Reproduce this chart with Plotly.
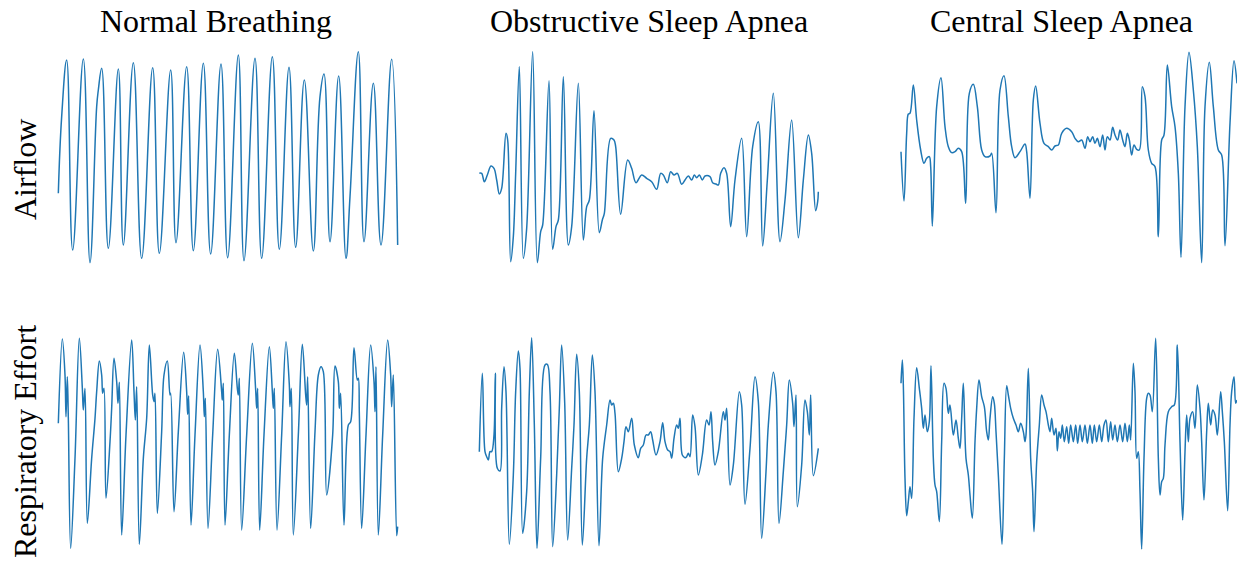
import plotly.graph_objects as go

# ---- data: (time, signal reading) pairs, signal axis increases downward (reversed scale)
normal_airflow = [(25,460),(35,230),(50,60),(68,630),(100,57),(120,668),(140,200),(145,150),(155,85),(175,625),
    (205,87),(220,615),(250,68),(275,655),(308,83),(328,640),(362,90),(378,608),(410,80),(430,632),(460,70),(482,642),
    (513,72),(533,653),(565,45),(582,662),(615,55),(635,655),(667,50),(688,628),(717,82),(737,622),(763,120),(790,633),
    (810,170),(822,102),(840,605),(866,108),(888,655),(900,470),(925,35),(942,605),(970,130),(993,615),(1025,58),(1043,615)]

osa_airflow = [(28,400),(35,400),(43,425),(52,405),(63,378),(72,385),(80,420),(88,462),(95,445),(108,280),(113,300),
    (122,665),(130,590),(137,400),(148,80),(160,655),(170,565),(188,35),(202,668),(212,575),(218,555),(237,122),(248,628),
    (258,560),(265,540),(280,110),(295,615),(305,560),(325,130),(340,600),(350,500),(358,480),(372,212),(388,578),(397,540),
    (403,520),(422,295),(432,300),(437,320),(452,523),(473,360),(485,385),(498,428),(515,405),(530,415),(545,425),(560,448),
    (572,400),(580,405),(592,428),(602,395),(612,405),(622,400),(635,433),(645,420),(655,408),(665,420),(673,405),(680,413),
    (688,405),(697,420),(705,408),(720,410),(728,428),(738,432),(745,435),(752,400),(762,383),(770,400),(782,560),(795,420),
    (815,295),(830,590),(848,320),(865,245),(878,618),(892,420),(910,160),(930,605),(945,480),(965,240),(985,593),(1000,420),
    (1015,285),(1025,340),(1037,512),(1043,485),(1045,455)]

csa_airflow = [(33,335),(42,483),(50,280),(55,222),(60,220),(70,135),(80,240),(92,330),(102,370),(110,355),(118,350),
    (122,380),(127,558),(140,200),(153,113),(165,260),(175,320),(185,338),(195,335),(205,325),(215,335),(227,490),(238,160),
    (250,133),(262,200),(275,330),(285,350),(300,348),(305,340),(318,518),(330,150),(342,107),(355,230),(365,320),(375,353),
    (390,335),(405,312),(410,335),(420,475),(430,180),(437,138),(450,250),(462,310),(475,320),(485,330),(495,318),(505,315),
    (515,280),(530,265),(545,275),(555,295),(565,305),(575,300),(585,325),(593,290),(600,305),(608,290),(615,310),(622,295),
    (630,320),(638,285),(645,330),(652,290),(660,300),(668,262),(675,285),(683,300),(690,270),(698,300),(705,320),(712,280),
    (718,300),(725,345),(732,315),(740,328),(748,330),(757,140),(765,170),(775,330),(785,370),(795,380),(805,590),(815,300),
    (822,285),(832,75),(845,200),(855,260),(865,400),(873,652),(885,200),(897,37),(910,150),(922,320),(935,668),(945,200),
    (958,67),(970,200),(985,330),(995,345),(1005,617),(1020,250),(1032,62),(1041,130)]

normal_effort = [(25,295),(37,42),(45,150),(48,275),(52,155),(55,280),(62,670),(75,400),(88,40),(97,190),(100,255),
    (105,190),(112,595),(125,400),(135,280),(140,200),(148,108),(155,150),(158,205),(162,190),(168,520),(180,350),(185,250),
    (192,100),(200,170),(204,235),(208,172),(215,630),(228,330),(245,45),(252,200),(256,285),(260,185),(268,658),(280,400),
    (290,280),(298,60),(308,210),(312,230),(315,205),(322,565),(335,320),(342,150),(352,108),(360,210),(362,205),(372,560),
    (385,320),(401,82),(410,200),(413,268),(416,212),(423,600),(435,330),(450,60),(460,200),(463,275),(466,220),(474,610),
    (488,330),(503,73),(515,200),(517,225),(520,175),(525,600),(538,330),(553,85),(562,190),(565,210),(568,160),(575,615),
    (590,330),(607,55),(617,195),(620,250),(623,190),(629,615),(642,330),(658,65),(667,200),(670,250),(673,190),(681,615),
    (695,330),(708,50),(718,180),(720,245),(724,190),(730,630),(745,330),(757,58),(767,210),(770,240),(773,155),(782,610),
    (795,320),(805,150),(813,125),(820,140),(830,510),(848,330),(855,123),(865,170),(868,250),(872,205),(882,600),(895,300),
    (902,290),(912,68),(922,165),(925,160),(928,265),(935,610),(948,330),(962,60),(972,170),(975,260),(978,125),(985,630),
    (998,330),(1013,45),(1022,150),(1025,245),(1030,150),(1040,632),(1043,605)]

osa_effort = [(28,380),(37,145),(45,380),(50,395),(55,405),(60,380),(65,380),(72,330),(76,145),(82,430),(90,438),
    (95,250),(102,125),(108,200),(118,658),(130,450),(137,200),(145,78),(150,130),(158,625),(170,500),(178,200),(185,38),
    (193,300),(201,670),(212,400),(225,120),(232,118),(240,200),(248,665),(260,450),(268,250),(275,60),(284,230),(293,645),
    (305,430),(312,300),(320,88),(328,200),(337,660),(350,400),(358,300),(367,90),(375,200),(387,662),(398,400),(410,300),
    (420,225),(425,240),(430,235),(435,265),(445,440),(455,400),(462,350),(468,305),(475,320),(485,280),(493,360),(505,398),
    (512,370),(520,360),(528,330),(535,330),(542,320),(548,345),(558,390),(570,350),(578,293),(585,350),(593,375),(600,380),
    (605,400),(612,340),(620,300),(625,310),(630,280),(637,390),(645,398),(650,395),(655,385),(660,395),(668,270),(675,305),
    (685,450),(697,390),(710,285),(717,300),(723,260),(728,350),(735,420),(745,380),(760,260),(765,285),(770,250),(780,480),
    (790,420),(808,200),(815,240),(825,538),(840,370),(855,155),(865,230),(875,640),(888,440),(895,300),(910,142),(918,200),
    (927,595),(940,440),(950,300),(958,165),(968,235),(972,305),(978,210),(982,545),(995,420),(1005,225),(1012,260),
    (1018,330),(1022,210),(1030,452),(1045,370)]

csa_effort = [(33,175),(37,105),(40,180),(45,460),(50,572),(55,530),(60,485),(65,520),(72,280),(80,128),(88,190),
    (95,250),(100,310),(105,270),(112,320),(118,290),(123,122),(130,400),(135,480),(140,500),(148,590),(155,350),(162,175),
    (168,190),(175,265),(180,240),(190,330),(198,285),(205,340),(210,370),(215,280),(220,175),(228,400),(235,450),(240,510),
    (247,580),(255,350),(260,250),(267,165),(275,215),(283,245),(290,320),(295,345),(300,280),(308,215),(313,235),(318,320),
    (325,450),(336,658),(343,400),(350,182),(355,210),(362,250),(370,280),(378,300),(385,320),(392,295),(400,320),(405,350),
    (408,330),(415,130),(422,400),(428,500),(432,620),(440,410),(448,300),(455,210),(462,240),(468,260),(475,300),(480,320),
    (485,280),(492,330),(498,310),(502,378),(507,320),(512,340),(517,300),(523,350),(530,305),(536,355),(542,300),(550,350),
    (557,300),(563,355),(570,300),(577,350),(585,300),(592,355),(600,300),(607,355),(613,300),(620,350),(628,300),(635,350),
    (642,300),(648,285),(655,350),(662,290),(668,345),(675,300),(682,350),(690,300),(698,350),(705,295),(712,350),(718,300),
    (722,345),(730,115),(735,200),(740,400),(745,380),(750,500),(755,672),(762,400),(770,220),(775,205),(780,210),(787,260),
    (797,40),(805,400),(810,510),(815,470),(820,460),(825,360),(835,260),(845,245),(853,240),(862,60),(870,350),(878,585),
    (885,380),(890,270),(895,350),(900,280),(908,260),(915,310),(922,180),(930,250),(935,350),(942,525),(950,320),(955,235),
    (962,300),(968,255),(975,270),(982,330),(992,200),(997,260),(1003,350),(1013,557),(1020,300),(1025,200),(1032,155),
    (1037,235),(1041,225)]

column_titles = ["Normal Breathing", "Obstructive Sleep Apnea", "Central Sleep Apnea"]
row_titles = ["Airflow", "Respiratory Effort"]

# ---- layout geometry (pixels)
W, H = 1237, 564
col_px = [(50, 410), (470, 830), (890, 1237)]
row_px = [(40, 275), (325, 560)]
panels = [[normal_airflow, osa_airflow, csa_airflow], [normal_effort, osa_effort, csa_effort]]
smooth = [[1.2, 1.0, 1.0], [1.0, 1.0, 1.0]]

fig = go.Figure()
layout = dict(width=W, height=H, margin=dict(l=0, r=0, t=0, b=0),
              paper_bgcolor="white", plot_bgcolor="white", showlegend=False)
idx = 0
for r in range(2):
    for c in range(3):
        idx += 1
        data = panels[r][c]
        sfx = "" if idx == 1 else str(idx)
        fig.add_trace(go.Scatter(x=[p[0] for p in data], y=[p[1] for p in data], mode="lines",
                                 line=dict(color="#1f77b4", width=1.5, shape="spline", smoothing=smooth[r][c]),
                                 xaxis="x" + sfx, yaxis="y" + sfx, hoverinfo="skip"))
        x0, x1 = col_px[c]
        y0, y1 = row_px[r]
        layout["xaxis" + sfx] = dict(domain=[x0 / W, x1 / W], range=[0, (x1 - x0) * 3],
                                     visible=False, anchor="y" + sfx, fixedrange=True)
        layout["yaxis" + sfx] = dict(domain=[1 - y1 / H, 1 - y0 / H], range=[(y1 - y0) * 3, 0],
                                     visible=False, anchor="x" + sfx, fixedrange=True)
fig.update_layout(**layout)

title_font = dict(family="Liberation Serif, Times New Roman, serif", size=32, color="black")
for c, t in enumerate(column_titles):
    cx = [216, 649, 1061][c]
    fig.add_annotation(text=t, x=cx / W, y=1 - 21 / H, xref="paper", yref="paper",
                       xanchor="center", yanchor="middle", showarrow=False, font=title_font)
for r, t in enumerate(row_titles):
    cy = [170, 442][r]
    fig.add_annotation(text=t, x=25 / W, y=1 - cy / H, xref="paper", yref="paper", textangle=-90,
                       xanchor="center", yanchor="middle", showarrow=False, font=title_font)

fig.write_html("out.html")
